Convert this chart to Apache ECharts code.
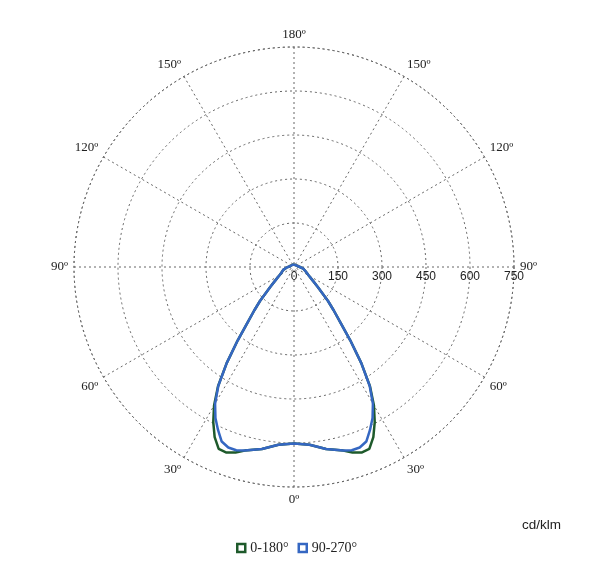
<!DOCTYPE html>
<html>
<head>
<meta charset="utf-8">
<script src="https://cdn.jsdelivr.net/npm/echarts@6/dist/echarts.min.js"></script>
<style>
html,body{margin:0;padding:0;background:#fff;}
#chart{width:600px;height:578px;}
</style>
</head>
<body>
<div id="chart"></div>
<script>
// Photometric angle gamma (deg, 0 = straight down, 180 = straight up)
var gammaDeg = [0, 5, 10, 15, 17.5, 20, 22.5, 25, 27.5, 30, 32.5, 35, 37.5, 40, 42.5, 45, 50, 55, 60, 65, 70, 75, 80, 85, 90, 100, 120, 150, 180];
// Intensity, plane 0-180 (cd/klm)
var plane0_180 = [602, 608, 630, 648, 663, 673, 671, 640, 596, 545, 482, 400, 315, 245, 200, 164, 105, 75, 58, 48, 42, 38, 32, 26, 20, 14, 10, 9, 8];
// Intensity, plane 90-270 (cd/klm)
var plane90_270 = [602, 608, 630, 648, 655, 655, 644, 613, 580, 538, 480, 400, 315, 245, 200, 164, 105, 75, 58, 48, 42, 38, 32, 26, 20, 14, 10, 9, 8];
var radiusTicks = [0, 150, 300, 450, 600, 750];
var seriesNames = ['0-180\u00b0', '90-270\u00b0'];
var seriesColors = ['#1e5a2b', '#3567c2'];

// angle axis value a: 0 = right, clockwise; bottom (gamma 0) = 90
function buildLoop(vals) {
  var pts = [];
  for (var i = gammaDeg.length - 1; i >= 0; i--) {
    pts.push([vals[i], ((90 - gammaDeg[i]) % 360 + 360) % 360]);
  }
  for (var j = 1; j < gammaDeg.length; j++) {
    pts.push([vals[j], 90 + gammaDeg[j]]);
  }
  return pts;
}

var chart = echarts.init(document.getElementById('chart'), null, {renderer: 'canvas'});
var gridLine = {color: '#666', width: 1, type: [2, 3]};
chart.setOption({
  animation: false,
  backgroundColor: '#fff',
  polar: {center: [294, 267], radius: 220},
  angleAxis: {
    type: 'value', min: 0, max: 360, interval: 30, startAngle: 0, clockwise: true,
    axisLine: {show: true, lineStyle: gridLine},
    axisTick: {show: false},
    splitLine: {show: true, lineStyle: gridLine},
    axisLabel: {
      margin: 6,
      fontFamily: 'Liberation Serif', fontSize: 13, color: '#222',
      formatter: function (a) {
        if (a >= 360) return '';
        var g = a <= 270 ? Math.abs(a - 90) : 450 - a;
        return g + '\u00ba';
      }
    }
  },
  radiusAxis: {
    type: 'value', min: radiusTicks[0], max: radiusTicks[radiusTicks.length - 1], interval: 150,
    axisLine: {show: false},
    axisTick: {show: false},
    splitLine: {show: true, lineStyle: gridLine},
    axisLabel: {
      fontFamily: 'Liberation Sans', fontSize: 12, color: '#222', margin: 0,
      verticalAlign: 'top', padding: [4, 0, 0, 0],
      formatter: function (v) { return radiusTicks.indexOf(v) >= 0 ? String(v) : ''; }
    }
  },
  legend: {
    bottom: 18, left: 231, itemWidth: 8, itemHeight: 8, itemGap: 9,
    textStyle: {fontFamily: 'Liberation Serif', fontSize: 14, color: '#222'},
    data: seriesNames.map(function (n, i) {
      return {name: n, icon: 'rect', itemStyle: {color: '#fff', borderColor: seriesColors[i], borderWidth: 2.5}};
    })
  },
  graphic: [{
    type: 'text', left: 522, top: 518,
    style: {text: 'cd/klm', font: '13.5px "Liberation Sans"', fill: '#222'}
  }],
  series: [
    {name: seriesNames[0], type: 'line', coordinateSystem: 'polar', data: buildLoop(plane0_180),
      showSymbol: false, smooth: false, lineStyle: {color: seriesColors[0], width: 2.5}, itemStyle: {color: seriesColors[0]}, z: 2},
    {name: seriesNames[1], type: 'line', coordinateSystem: 'polar', data: buildLoop(plane90_270),
      showSymbol: false, smooth: false, lineStyle: {color: seriesColors[1], width: 2.5}, itemStyle: {color: seriesColors[1]}, z: 3}
  ]
});
</script>
</body>
</html>
